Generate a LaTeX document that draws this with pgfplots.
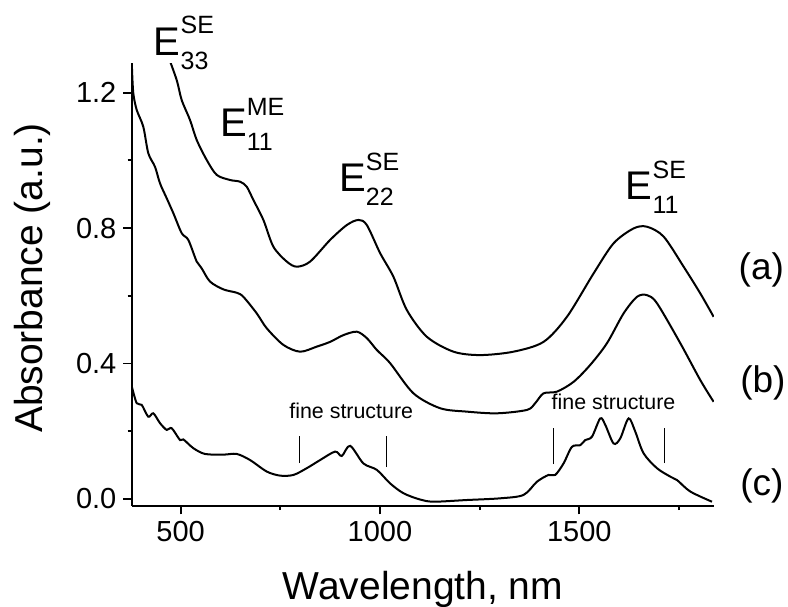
\documentclass[border=0pt]{standalone}
\usepackage{fontspec}
\setmainfont{Liberation Sans}
\usepackage{pgfplots}
\pgfplotsset{compat=1.18}

% E with stacked super/subscript, as in the figure
\newcommand{\Elab}[2]{{\fontsize{20}{20}\selectfont E}%
  \rlap{\raisebox{10.8pt}{\fontsize{12.5}{12.5}\selectfont #1}}%
  \raisebox{-7pt}{\fontsize{12.5}{12.5}\selectfont #2}}

\begin{document}
\begin{tikzpicture}
\begin{axis}[
  scale only axis, width=291pt, height=221.2pt,
  xmin=378, xmax=1838, ymin=-0.0198, ymax=1.2866,
  axis x line*=bottom, axis y line*=left,
  axis line style={-, line width=0.9pt},
  clip mode=individual,
  tick align=outside, major tick length=4.3pt, minor tick length=2.2pt,
  every tick/.style={black, line width=0.9pt},
  xtick={500,1000,1500}, minor xtick={750,1250,1750},
  ytick={0,0.4,0.8,1.2}, minor ytick={0.2,0.6,1.0},
  /pgf/number format/assume math mode=true,
  /pgf/number format/1000 sep={},
  ticklabel style={font=\fontsize{14.5}{14.5}\selectfont},
  y tick label style={/pgf/number format/fixed, /pgf/number format/fixed zerofill,
    /pgf/number format/precision=1},
  xlabel={Wavelength, nm}, ylabel={Absorbance (a.u.)},
  label style={font=\fontsize{19.5}{19.5}\selectfont},
  xlabel style={at={(axis description cs:0.5,-0.213)}, anchor=base, inner sep=0pt},
  ylabel style={at={(axis description cs:-0.1546,0.5147)}, anchor=base, inner sep=0pt},
]
% (a)
\addplot[black, line width=1pt, smooth, tension=0.5] coordinates {
 (468,1.31)(490.2,1.237)(502.7,1.178)(523.6,1.119)(540.4,1.060)(565.5,1.001)
 (590.6,0.957)(624,0.942)(649,0.937)(665.9,0.922)(682.5,0.883)(707.6,0.824)
 (732.7,0.745)(766.3,0.701)(791.4,0.686)(824.8,0.701)(875,0.765)(916.9,0.809)
 (946,0.824)(967.1,0.809)(1000.5,0.726)(1033.9,0.656)(1067.5,0.558)(1117.7,0.479)
 (1184.5,0.435)(1251.5,0.425)(1335,0.435)(1410.4,0.464)(1469.1,0.538)(1535.9,0.666)
 (1586.1,0.755)(1636.3,0.799)(1669.9,0.804)(1711.6,0.775)(1761.8,0.686)(1803.7,0.607)
 (1837.1,0.538)};
% (b)
\addplot[black, line width=1pt, smooth, tension=0.5] coordinates {
 (378,1.27)(381.3,1.198)(389.8,1.149)(406.4,1.099)(418.9,1.021)(435.7,0.981)
 (448.3,0.932)(465.1,0.888)(481.7,0.844)(502.7,0.785)(519.3,0.765)(540.4,0.701)
 (552.9,0.681)(573.8,0.642)(607.2,0.619)(640.8,0.609)(657.4,0.597)(691,0.548)
 (716.1,0.504)(757.8,0.455)(799.7,0.435)(841.6,0.450)(875,0.464)(908.4,0.484)
 (942,0.494)(967.1,0.475)(992.2,0.440)(1025.6,0.401)(1084.1,0.312)(1151.1,0.268)
 (1218.1,0.258)(1293.4,0.253)(1368.7,0.263)(1389.5,0.283)(1410.4,0.312)(1444,0.317)
 (1485.8,0.346)(1527.6,0.396)(1569.5,0.460)(1611.2,0.548)(1644.8,0.597)(1669.9,0.602)
 (1695,0.578)(1753.5,0.460)(1803.7,0.351)(1837.1,0.287)};
% (c)
\addplot[black, line width=1pt, smooth, tension=0.5] coordinates {
 (378,0.33)(389.8,0.283)(402.3,0.278)(418.9,0.243)(431.5,0.253)(448.3,0.224)
 (465.1,0.204)(477.6,0.209)(498.5,0.174)(506.8,0.176)(531.9,0.150)(561.2,0.133)
 (607.2,0.131)(640.8,0.133)(674.2,0.115)(716.1,0.081)(749.5,0.069)(782.9,0.071)
 (816.5,0.091)(849.9,0.115)(887.5,0.140)(904.3,0.127)(925.2,0.157)(958.6,0.105)
 (992.2,0.086)(1025.6,0.046)(1059,0.017)(1099.1,-0.001)(1134.3,-0.008)(1218.1,-0.003)
 (1301.7,0.002)(1360.2,0.012)(1393.8,0.051)(1423,0.071)(1439.7,0.071)(1460.6,0.105)
 (1481.6,0.154)(1502.5,0.159)(1515,0.174)(1531.9,0.184)(1552.7,0.238)(1565.2,0.219)
 (1586.1,0.164)(1602.9,0.179)(1623.7,0.238)(1640.5,0.199)(1661.3,0.135)(1694.9,0.091)
 (1728.4,0.066)(1745.2,0.056)(1778.6,0.022)(1833,-0.008)};

% fine-structure markers
\draw[line width=0.5pt] (axis cs:798,0.106) -- (axis cs:798,0.186);
\draw[line width=0.5pt] (axis cs:1017,0.094) -- (axis cs:1017,0.186);
\draw[line width=0.5pt] (axis cs:1435,0.103) -- (axis cs:1435,0.209);
\draw[line width=0.5pt] (axis cs:1715,0.106) -- (axis cs:1715,0.209);
\node[anchor=base, inner sep=0pt, font=\fontsize{10.7}{10.7}\selectfont]
  at (axis cs:928,0.238) {fine structure};
\node[anchor=base, inner sep=0pt, font=\fontsize{10.7}{10.7}\selectfont]
  at (axis cs:1586,0.263) {fine structure};

% transition labels
\node[anchor=base west, inner sep=0pt] at (axis cs:432,1.311) {\Elab{SE}{33}};
\node[anchor=base west, inner sep=0pt] at (axis cs:598,1.070) {\Elab{ME}{11}};
\node[anchor=base west, inner sep=0pt] at (axis cs:897,0.907) {\Elab{SE}{22}};
\node[anchor=base west, inner sep=0pt] at (axis cs:1616,0.883) {\Elab{SE}{11}};

% curve labels
\node[anchor=base west, inner sep=0pt, font=\fontsize{18.5}{18.5}\selectfont]
  at (axis cs:1899,0.648) {(a)};
\node[anchor=base west, inner sep=0pt, font=\fontsize{18.5}{18.5}\selectfont]
  at (axis cs:1903,0.315) {(b)};
\node[anchor=base west, inner sep=0pt, font=\fontsize{18.5}{18.5}\selectfont]
  at (axis cs:1903,0.010) {(c)};

\coordinate (ll) at (rel axis cs:0,0);
\coordinate (ur) at (rel axis cs:1,1);
\end{axis}
\pgfresetboundingbox
\path ([shift={(-66pt,-50.15pt)}]ll) rectangle ([shift={(37pt,31.65pt)}]ur);
\end{tikzpicture}
\end{document}
